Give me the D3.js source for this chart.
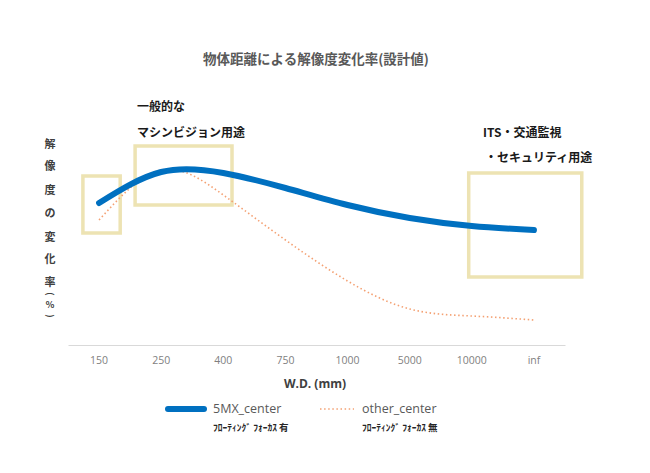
<!DOCTYPE html>
<html><head><meta charset="utf-8">
<script src="https://cdn.jsdelivr.net/npm/d3@7"></script>
<style>body{margin:0;background:#fff}svg{display:block}</style>
</head><body>
<svg id="chart" width="650" height="473"></svg>
<script>
// ---- data ----
const categories = ["150","250","400","750","1000","5000","10000","inf"];
const series5MX   = [71, 86.5, 86, 78.5, 70, 63.5, 59.5, 57.5];
const seriesOther = [62.5, 87.5, 75, 52.5, 32, 18, 14.5, 12.5];
const seriesNames = ["5MX_center", "other_center"];
const seriesSubs  = ["ﾌﾛｰﾃｨﾝｸﾞ ﾌｫｰｶｽ 有", "ﾌﾛｰﾃｨﾝｸﾞ ﾌｫｰｶｽ 無"];
const titleText = "物体距離による解像度変化率(設計値)";
const xTitle = "W.D. (mm)";
const yTitleChars = ["解","像","度","の","変","化","率","(","％",")"];
// highlight boxes in data units: category index range, value range
const boxIdx0 = [-0.26, 0.58, 5.95];
const boxIdx1 = [0.34, 2.14, 7.77];
const boxV0   = [56, 70, 34];
const boxV1   = [84.5, 99.5, 86];
const noteLines = [["一般的な","マシンビジョン用途"],["ITS・交通監視","・セキュリティ用途"]];

// ---- setup ----
const svg = d3.select("#chart");
const jp = "'Noto Sans CJK JP', 'Noto Sans', sans-serif";
const lat = "'Open Sans', 'Noto Sans', sans-serif";

const x = d3.scaleBand().domain(categories).range([68, 565]).padding(0);
const y = d3.scaleLinear().domain([0, 100]).range([345, 145]);
const cx = c => x(c) + x.bandwidth() / 2;
const ix = i => x(categories[0]) + x.bandwidth() / 2 + i * x.step();

// title
svg.append("text").attr("x", 316).attr("y", 64).attr("text-anchor", "middle")
  .attr("font-family", jp).attr("font-weight", "bold").attr("font-size", 13.5)
  .attr("fill", "#595959").text(titleText);

// x axis
const xAxis = d3.axisBottom(x).tickSize(0).tickPadding(12);
const gx = svg.append("g").attr("transform", "translate(0,345)").call(xAxis);
gx.select(".domain").attr("stroke", "#d9d9d9").attr("stroke-width", 1.2);
gx.selectAll("text").attr("font-family", lat).attr("font-size", 10.5).attr("fill", "#7f7f7f");

svg.append("text").attr("x", 315).attr("y", 388).attr("text-anchor", "middle")
  .attr("font-family", lat).attr("font-weight", "bold").attr("font-size", 12)
  .attr("fill", "#404040").text(xTitle);

// y title (vertical stacked chars)
const yPos = [144, 166, 190, 213, 237, 259, 282, 294, 305, 316];
svg.append("g").selectAll("text").data(yTitleChars).join("text")
  .attr("x", 50).attr("y", (d, i) => yPos[i]).attr("dy", "0.35em")
  .attr("text-anchor", "middle").attr("font-family", jp).attr("font-weight", "bold")
  .attr("font-size", (d, i) => i >= 7 ? 9 : 11).attr("fill", "#404040")
  .attr("transform", (d, i) => (i === 7 || i === 9) ? `rotate(90,50,${yPos[i]})` : null)
  .text(d => d);

// boxes
const boxes = boxIdx0.map((v, i) => ({ i0: v, i1: boxIdx1[i], v0: boxV0[i], v1: boxV1[i] }));
svg.append("g").selectAll("rect").data(boxes).join("rect")
  .attr("x", d => ix(d.i0)).attr("y", d => y(d.v1))
  .attr("width", d => ix(d.i1) - ix(d.i0)).attr("height", d => y(d.v0) - y(d.v1))
  .attr("fill", "none").attr("stroke", "#ede3b3").attr("stroke-width", 3.5);

// lines
const line = d3.line().x((d, i) => cx(categories[i])).y(d => y(d)).curve(d3.curveNatural);
svg.append("path").attr("d", line(seriesOther)).attr("fill", "none")
  .attr("stroke", "#f4a173").attr("stroke-width", 1.6).attr("stroke-dasharray", "1.5,2.6");
svg.append("path").attr("d", line(series5MX)).attr("fill", "none")
  .attr("stroke", "#0070c0").attr("stroke-width", 6).attr("stroke-linecap", "round");

// notes
const notePos = [[137, 107, 133], [483, 133, 158]];
noteLines.forEach((lines, k) => {
  lines.forEach((t, j) => {
    svg.append("text").attr("x", notePos[k][0] + (k === 1 && j === 1 ? 2 : 0))
      .attr("y", notePos[k][1 + j]).attr("dy", "0.35em")
      .attr("font-family", jp).attr("font-weight", "bold").attr("font-size", 12)
      .attr("fill", "#1a1a1a").text(t);
  });
});

// legend
const lg = svg.append("g");
const lgX = [168, 320];
lg.append("line").attr("x1", lgX[0]).attr("x2", lgX[0] + 36).attr("y1", 409).attr("y2", 409)
  .attr("stroke", "#0070c0").attr("stroke-width", 6).attr("stroke-linecap", "round");
lg.append("line").attr("x1", lgX[1]).attr("x2", lgX[1] + 34).attr("y1", 409).attr("y2", 409)
  .attr("stroke", "#f4a173").attr("stroke-width", 1.6).attr("stroke-dasharray", "1.5,2.6");
const txX = [213, 362];
seriesNames.forEach((n, i) => {
  lg.append("text").attr("x", txX[i]).attr("y", 409).attr("dy", "0.35em")
    .attr("font-family", lat).attr("font-size", 12.5).attr("fill", "#595959").text(n);
  lg.append("text").attr("x", txX[i]).attr("y", 428).attr("dy", "0.35em")
    .attr("font-family", jp).attr("font-weight", "bold").attr("font-size", 9.5)
    .attr("fill", "#262626").text(seriesSubs[i]);
});
</script>
</body></html>
